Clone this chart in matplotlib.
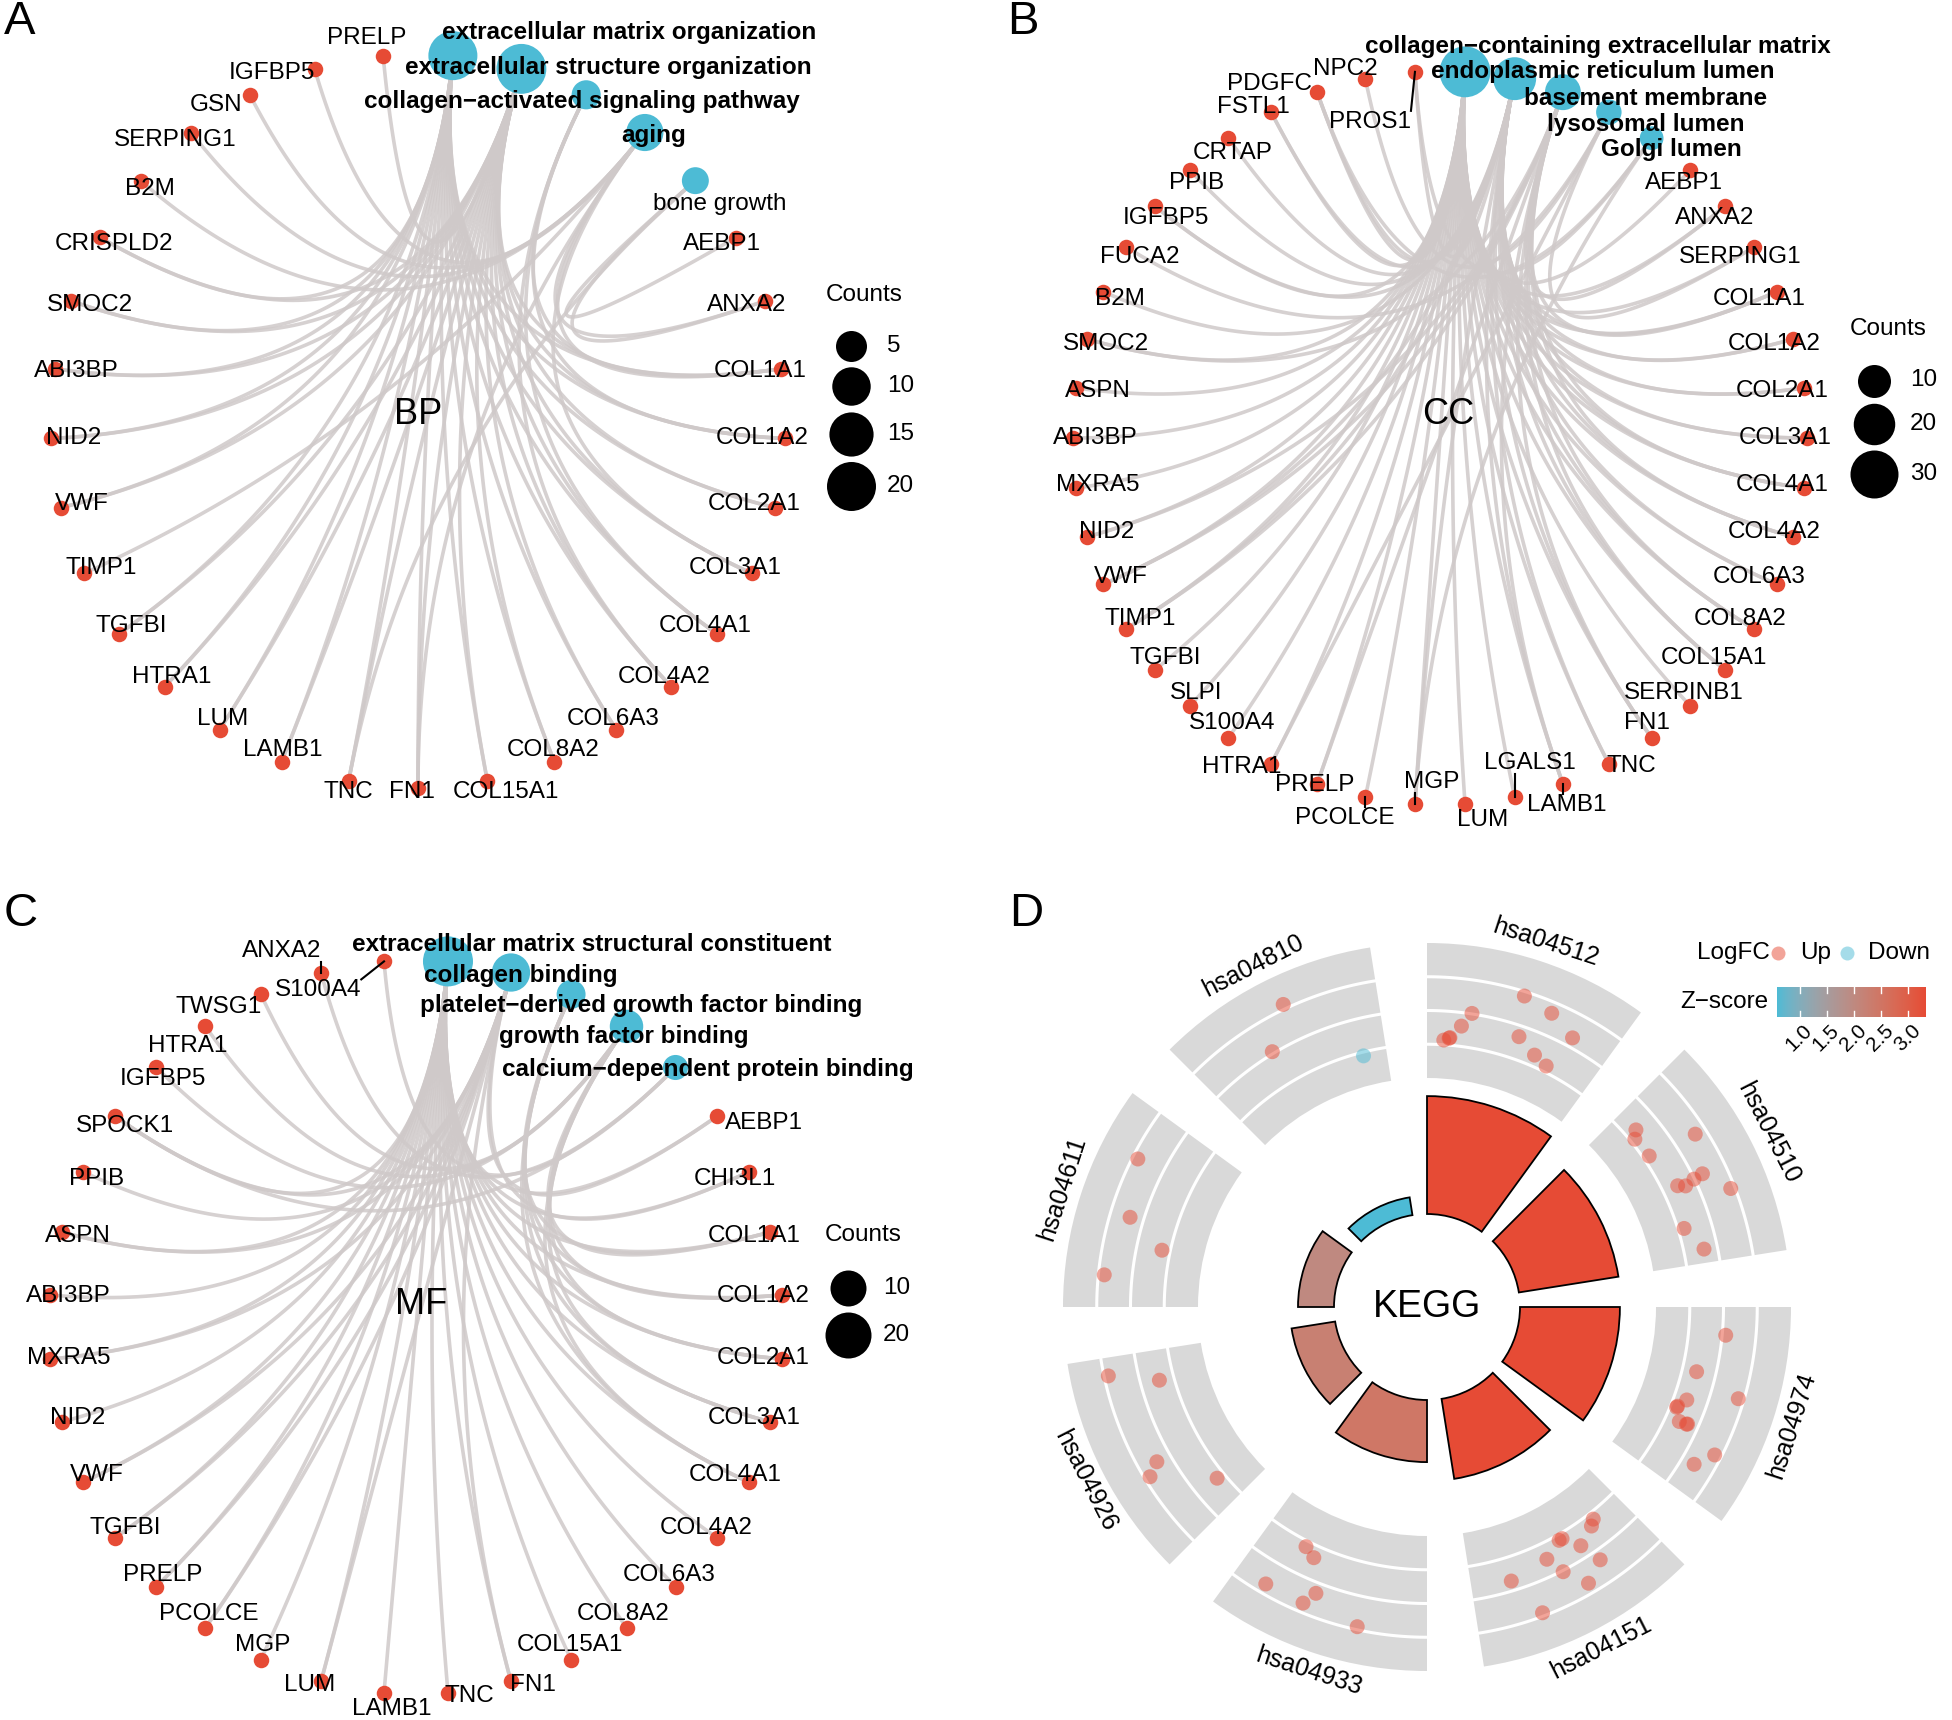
import numpy as np
import matplotlib
matplotlib.use("Agg")
import matplotlib.pyplot as plt
import matplotlib.colors as mcolors
from matplotlib.patches import Wedge

plt.rcParams['font.family'] = ['Liberation Sans', 'DejaVu Sans']

W, H = 1952, 1720

# ---------------- panel A : GO BP ----------------
bp_terms = ["extracellular matrix organization", "extracellular structure organization",
            "collagen\u2212activated signaling pathway", "aging", "bone growth"]
bp_genes = ["AEBP1", "ANXA2", "COL1A1", "COL1A2", "COL2A1", "COL3A1", "COL4A1", "COL4A2",
            "COL6A3", "COL8A2", "COL15A1", "FN1", "TNC", "LAMB1", "LUM", "HTRA1", "TGFBI",
            "TIMP1", "VWF", "NID2", "ABI3BP", "SMOC2", "CRISPLD2", "B2M", "SERPING1", "GSN",
            "IGFBP5", "PRELP"]
bp_ecm = ["COL1A1", "COL1A2", "COL2A1", "COL3A1", "COL4A1", "COL4A2", "COL6A3", "COL8A2",
          "COL15A1", "FN1", "TNC", "LAMB1", "LUM", "HTRA1", "TGFBI", "VWF", "NID2", "ABI3BP",
          "SMOC2", "CRISPLD2"]
bp_members = [bp_ecm,
              bp_ecm + ["PRELP"],
              ["COL1A1", "COL1A2", "COL4A1", "COL4A2"],
              ["ANXA2", "COL1A1", "COL3A1", "FN1", "TIMP1", "B2M", "SERPING1", "GSN", "IGFBP5"],
              ["AEBP1", "ANXA2", "TNC"]]

# ---------------- panel B : GO CC ----------------
cc_terms = ["collagen\u2212containing extracellular matrix", "endoplasmic reticulum lumen",
            "basement membrane", "lysosomal lumen", "Golgi lumen"]
cc_genes = ["AEBP1", "ANXA2", "SERPING1", "COL1A1", "COL1A2", "COL2A1", "COL3A1", "COL4A1",
            "COL4A2", "COL6A3", "COL8A2", "COL15A1", "SERPINB1", "FN1", "TNC", "LAMB1",
            "LGALS1", "LUM", "MGP", "PCOLCE", "PRELP", "HTRA1", "S100A4", "SLPI", "TGFBI",
            "TIMP1", "VWF", "NID2", "MXRA5", "ABI3BP", "ASPN", "SMOC2", "B2M", "FUCA2",
            "IGFBP5", "PPIB", "CRTAP", "FSTL1", "PDGFC", "NPC2", "PROS1"]
cc_members = [[g for g in cc_genes if g not in ("B2M", "FUCA2", "PPIB", "CRTAP", "NPC2", "PROS1")],
              ["COL1A1", "COL1A2", "COL2A1", "COL3A1", "COL4A1", "COL4A2", "COL6A3", "COL8A2",
               "COL15A1", "FN1", "TIMP1", "PPIB", "CRTAP", "FSTL1", "PDGFC", "PROS1", "IGFBP5",
               "MGP", "VWF", "TNC", "LAMB1", "B2M"],
              ["ANXA2", "COL1A1", "COL4A1", "COL4A2", "COL8A2", "COL15A1", "FN1", "LAMB1",
               "NID2", "SMOC2", "TIMP1", "VWF", "PRELP"],
              ["FUCA2", "NPC2", "HTRA1", "SERPING1"],
              ["PDGFC", "PROS1", "MGP"]]

# ---------------- panel C : GO MF ----------------
mf_terms = ["extracellular matrix structural constituent", "collagen binding",
            "platelet\u2212derived growth factor binding", "growth factor binding",
            "calcium\u2212dependent protein binding"]
mf_genes = ["AEBP1", "CHI3L1", "COL1A1", "COL1A2", "COL2A1", "COL3A1", "COL4A1", "COL4A2",
            "COL6A3", "COL8A2", "COL15A1", "FN1", "TNC", "LAMB1", "LUM", "MGP", "PCOLCE",
            "PRELP", "TGFBI", "VWF", "NID2", "MXRA5", "ABI3BP", "ASPN", "PPIB", "SPOCK1",
            "IGFBP5", "HTRA1", "TWSG1", "ANXA2", "S100A4"]
mf_members = [["COL1A1", "COL1A2", "COL2A1", "COL3A1", "COL4A1", "COL4A2", "COL6A3", "COL8A2",
               "COL15A1", "FN1", "TNC", "LAMB1", "LUM", "MGP", "PCOLCE", "PRELP", "TGFBI",
               "VWF", "NID2", "MXRA5", "ABI3BP", "ASPN", "AEBP1", "SPOCK1", "CHI3L1"],
              ["AEBP1", "CHI3L1", "FN1", "LUM", "PCOLCE", "PRELP", "TGFBI", "VWF", "ASPN",
               "PPIB", "SPOCK1", "MXRA5"],
              ["COL1A1", "COL1A2", "COL2A1", "COL3A1", "COL4A1"],
              ["COL1A1", "COL1A2", "COL2A1", "COL3A1", "COL4A1", "IGFBP5", "HTRA1", "TWSG1"],
              ["ANXA2", "S100A4", "SPOCK1"]]

# ---------------- panel D : KEGG circle ----------------
kegg_ids = ["hsa04512", "hsa04510", "hsa04974", "hsa04151",
            "hsa04933", "hsa04926", "hsa04611", "hsa04810"]
kegg_neglogp = [6.55, 5.6, 5.55, 4.5, 3.45, 2.45, 2.0, 1.0]
# position of each gene inside its sector (0 = sector start, 1 = end) and its logFC
kegg_pos = [[0.483, 0.639, 0.242, 0.194, 0.131, 0.100, 0.522, 0.789, 0.642, 0.731, 0.135],
            [0.131, 0.169, 0.300, 0.339, 0.533, 0.539, 0.553, 0.533, 0.658, 0.778, 0.922],
            [0.15, 0.375, 0.547, 0.608, 0.456, 0.678, 0.672, 0.756, 0.847, 0.600, 0.675],
            [0.192, 0.225, 0.41, 0.43, 0.339, 0.544, 0.294, 0.494, 0.775, 0.408, 0.675],
            [0.744, 0.675, 0.839, 0.589, 0.631, 0.342],
            [0.911, 0.825, 0.422, 0.375, 0.161],
            [0.753, 0.467, 0.336, 0.158],
            [0.544, 0.383, 0.856]]
kegg_lfc = [[3.74, 3.34, 2.03, 1.20, 0.41, 0.28, 1.35, 2.56, 0.66, 0.36, 0.45],
            [0.66, 0.26, 0.35, 3.34, 2.56, 1.97, 1.35, 0.93, 3.75, 0.36, 1.20],
            [2.21, 0.86, 0.78, 0.37, 3.66, 0.85, 1.36, 3.60, 2.80, 0.40, 1.30],
            [0.40, 0.66, 0.32, 0.32, 1.26, 0.98, 2.59, 2.07, 1.42, 3.39, 3.80],
            [0.34, 0.73, 3.42, 2.63, 3.45, 3.82],
            [3.75, 0.87, 2.88, 3.68, 0.48],
            [3.68, 2.81, 0.49, 3.65],
            [4.28, 2.12, -0.22]]

# ---------------- style ----------------
R = 367.0
EDGE = "#CFC9C9"
RED = "#E64B35"
BLUE = "#4DBBD5"
FS = 17.5

fig = plt.figure(figsize=(W / 100, H / 100), dpi=100)
rend = fig.canvas.get_renderer()


def pt(d):
    return d * 72 / 100


def node_d(c, ref):
    c0, d0, k = ref
    return d0 + k * (np.sqrt(c) - np.sqrt(c0))


def make_axes(x0, y0, x1, y1, cx, cy):
    ax = fig.add_axes([x0 / W, 1 - y1 / H, (x1 - x0) / W, (y1 - y0) / H])
    lims = ((x0 - cx, x1 - cx), (cy - y1, cy - y0))
    ax.set_xlim(*lims[0])
    ax.set_ylim(*lims[1])
    ax.set_axis_off()
    return ax, lims


def cnet(ax, terms, genes, members, hub, hub_xy, ref, leg_vals, leg_xy, gain,
         nudges, term_nudge, plain=()):
    names = terms + genes
    n = len(names)
    theta = np.deg2rad(90 - (np.arange(n) + 0.5) * 360 / n)
    xy = {nm: np.array([R * np.cos(t), R * np.sin(t)]) for nm, t in zip(names, theta)}
    th = dict(zip(names, theta))

    tt = np.linspace(0, 1, 80)[:, None]
    for term, mem in zip(terms, members):
        for g in mem:
            # quadratic bezier, control point at the hub (circle centre)
            curve = (1 - tt) ** 2 * xy[term] + tt ** 2 * xy[g]
            ax.plot(curve[:, 0], curve[:, 1], color=EDGE, lw=2.6, alpha=0.85,
                    zorder=1, solid_capstyle="round")

    ax.scatter([xy[g][0] for g in genes], [xy[g][1] for g in genes],
               s=pt(15.5) ** 2, color=RED, lw=0, zorder=3)
    counts = [len(m) for m in members]
    ax.scatter([xy[t][0] for t in terms], [xy[t][1] for t in terms],
               s=[pt(node_d(c, ref)) ** 2 for c in counts], color=BLUE, lw=0, zorder=3)

    for g in genes:
        x, y = xy[g]
        t = th[g]
        if g in nudges:
            dx, dy, lead = nudges[g]
        else:
            dx, dy, lead = -gain[0] * R * np.cos(t) ** 3, -gain[1] * R * np.sin(t), False
        txt = ax.text(x + dx, y + dy, g, fontsize=FS, ha="center", va="center", zorder=6)
        if lead:
            bb = txt.get_window_extent(rend).transformed(ax.transData.inverted())
            ex, ey = np.clip(x, bb.x0, bb.x1), np.clip(y, bb.y0, bb.y1)
            ax.plot([x, ex], [y, ey], color="black", lw=1.5, zorder=5)

    for term, (dx, dy) in zip(terms, term_nudge):
        x, y = xy[term]
        ax.text(x + dx, y + dy, term, fontsize=FS, ha="center", va="center", zorder=6,
                fontweight="normal" if term in plain else "bold")

    ax.text(hub_xy[0], hub_xy[1], hub, fontsize=26, ha="center", va="center", zorder=6)

    # size legend
    lx, ly = leg_xy
    ds = [node_d(v, ref) for v in leg_vals]
    dmax = max(ds)
    ax.text(lx, ly, "Counts", fontsize=FS, ha="left", va="center")
    yk = ly - 35 - ds[0] / 2
    for i, (v, d) in enumerate(zip(leg_vals, ds)):
        if i:
            yk -= (ds[i - 1] + d) / 2 + 6
        ax.scatter([lx + dmax / 2], [yk], s=pt(d) ** 2, color="black", lw=0)
        ax.text(lx + dmax + 12, yk, str(v), fontsize=FS, ha="left", va="center")


# ---- A
axA, _ = make_axes(0, 0, 976, 860, 418, 421)
cnet(axA, bp_terms, bp_genes, bp_members, "BP", (0, 6), (5, 31, 8.05), [5, 10, 15, 20],
     (408, 126), (0.06, 0.035),
     {"PRELP": (-16, 18, False), "IGFBP5": (-43, -4, False), "GSN": (-34, -10, False),
      "SERPING1": (-16, -7, False), "TNC": (0, -11, False), "FN1": (-6, -4, False),
      "COL15A1": (18, -11, False)},
     [(176, 23), (87, 1), (-4, -7), (9, -3), (24, -23)], plain=("bone growth",))

# ---- B
axB, _ = make_axes(976, 0, 1952, 860, 1440, 438)
cnet(axB, cc_terms, cc_genes, cc_members, "CC", (8, 23), (10, 33, 6.48), [10, 20, 30],
     (410, 109), (0.06, 0.05),
     {"PROS1": (-45, -50, True), "PCOLCE": (-21, -21, True), "MGP": (17, 22, True),
      "LGALS1": (15, 34, True), "LAMB1": (4, -21, True), "LUM": (18, -16, False),
      "TNC": (23, -2, False), "HTRA1": (-29, -3, False), "PRELP": (-2, -1, False),
      "PDGFC": (-48, 8, False), "NPC2": (-20, 10, False), "FSTL1": (-18, 5, False)},
     [(133, 25), (88, 7), (83, -6), (37, -12), (20, -11)])

# ---- C
axC, _ = make_axes(0, 860, 976, 1720, 416, 1327)
cnet(axC, mf_terms, mf_genes, mf_members, "MF", (5, 23), (10, 36, 7.63), [10, 20],
     (409, 92), (0.05, 0.045),
     {"S100A4": (-66, -29, True), "ANXA2": (-39, 22, True), "TWSG1": (-42, -13, False),
      "HTRA1": (-18, -20, False), "AEBP1": (47, -7, False), "LAMB1": (8, -16, False),
      "TNC": (21, -3, False), "FN1": (22, -4, False), "LUM": (-11, -4, False)},
     [(144, 17), (10, -3), (70, -11), (-3, -10), (32, -2)])


# ---- D
def to_lab(c):
    rgb = np.array(mcolors.to_rgb(c))
    lin = np.where(rgb <= 0.04045, rgb / 12.92, ((rgb + 0.055) / 1.055) ** 2.4)
    xyz = M_XYZ @ lin / WP
    f = np.where(xyz > (6 / 29) ** 3, np.cbrt(xyz), xyz / (3 * (6 / 29) ** 2) + 4 / 29)
    return np.array([116 * f[1] - 16, 500 * (f[0] - f[1]), 200 * (f[1] - f[2])])


def from_lab(lab):
    fy = (lab[0] + 16) / 116
    f = np.array([fy + lab[1] / 500, fy, fy - lab[2] / 200])
    xyz = np.where(f > 6 / 29, f ** 3, 3 * (6 / 29) ** 2 * (f - 4 / 29)) * WP
    lin = np.clip(np.linalg.solve(M_XYZ, xyz), 0, 1)
    return np.clip(np.where(lin <= 0.0031308, 12.92 * lin, 1.055 * lin ** (1 / 2.4) - 0.055), 0, 1)


M_XYZ = np.array([[0.4124564, 0.3575761, 0.1804375],
                  [0.2126729, 0.7151522, 0.0721750],
                  [0.0193339, 0.1191920, 0.9503041]])
WP = np.array([0.95047, 1.0, 1.08883])
lab_lo, lab_hi = to_lab(BLUE), to_lab(RED)
zcmap = mcolors.ListedColormap([from_lab(lab_lo + s * (lab_hi - lab_lo))
                                for s in np.linspace(0, 1, 256)])

axD, limD = make_axes(976, 860, 1952, 1720, 1427, 1307)
R_IN, BAR_K = 93, 18
RING0, RING1 = 229, 364
LFC_LO, LFC_HI = -2, 6
SPAN = 36

zscores = [(np.sum(np.array(l) > 0) - np.sum(np.array(l) < 0)) / np.sqrt(len(l)) for l in kegg_lfc]
znorm = mcolors.Normalize(min(zscores), max(zscores))


def lfc_r(v):
    return RING0 + (np.asarray(v) - LFC_LO) / (LFC_HI - LFC_LO) * (RING1 - RING0)


for k, (name, h, pos, lfc, zk) in enumerate(zip(kegg_ids, kegg_neglogp, kegg_pos, kegg_lfc, zscores)):
    start = 90 - 45 * k
    axD.add_patch(Wedge((0, 0), RING1, start - SPAN, start, width=RING1 - RING0,
                        facecolor="#D9D9D9", lw=0, zorder=1))
    arc = np.deg2rad(np.linspace(start - SPAN, start, 80))
    for v in (0, 2, 4):
        r = lfc_r(v)
        axD.plot(r * np.cos(arc), r * np.sin(arc), color="white", lw=2.2, zorder=2)
    ang = np.deg2rad(start - np.array(pos) * SPAN)
    rr = lfc_r(lfc)
    axD.scatter(rr * np.cos(ang), rr * np.sin(ang), s=pt(15) ** 2,
                c=[RED if v > 0 else BLUE for v in lfc], alpha=0.5, lw=0, zorder=3)
    axD.add_patch(Wedge((0, 0), R_IN + h * BAR_K, start - SPAN, start, width=h * BAR_K,
                        facecolor=zcmap(znorm(zk)), edgecolor="black", lw=1.3, zorder=2))
    mid = start - SPAN / 2
    rot = mid - 90 if np.sin(np.deg2rad(mid)) > 0 else mid + 90
    axD.text(383 * np.cos(np.deg2rad(mid)), 383 * np.sin(np.deg2rad(mid)), name,
             rotation=rot, rotation_mode="anchor", ha="center", va="center", fontsize=18)

axD.text(0, 0, "KEGG", fontsize=27, ha="center", va="center")

# legend of panel D
axD.text(269.7, 354, "LogFC", fontsize=FS, ha="left", va="center")
axD.scatter([351.3], [354], s=pt(14) ** 2, color=RED, alpha=0.5, lw=0)
axD.text(373, 354, "Up", fontsize=FS, ha="left", va="center")
axD.scatter([419.7], [354], s=pt(14) ** 2, color=BLUE, alpha=0.5, lw=0)
axD.text(441, 354, "Down", fontsize=FS, ha="left", va="center")
axD.text(341, 305, "Z\u2212score", fontsize=FS, ha="right", va="center")
cb = (349.7, 498.0, 290.3, 320.3)
axD.imshow(np.linspace(0, 1, 256)[None, :], extent=cb, cmap=zcmap, aspect="auto",
           origin="lower", zorder=2)
for zt in [1.0, 1.5, 2.0, 2.5, 3.0]:
    xt = cb[0] + znorm(zt) * (cb[1] - cb[0])
    axD.plot([xt, xt], [cb[2], cb[2] + 6], color="white", lw=1, zorder=3)
    axD.plot([xt, xt], [cb[3] - 6, cb[3]], color="white", lw=1, zorder=3)
    axD.text(xt + 3, cb[2] - 4, f"{zt:.1f}", fontsize=15, rotation=45,
             rotation_mode="anchor", ha="right", va="top")
axD.set_xlim(*limD[0])
axD.set_ylim(*limD[1])

# panel letters
for letter, (x, y) in zip("ABCD", [(20, 22), (1023, 22), (21, 914), (1026, 914)]):
    fig.text(x / W, 1 - y / H, letter, fontsize=34, ha="center", va="center")

fig.savefig("out.png", dpi=100)
